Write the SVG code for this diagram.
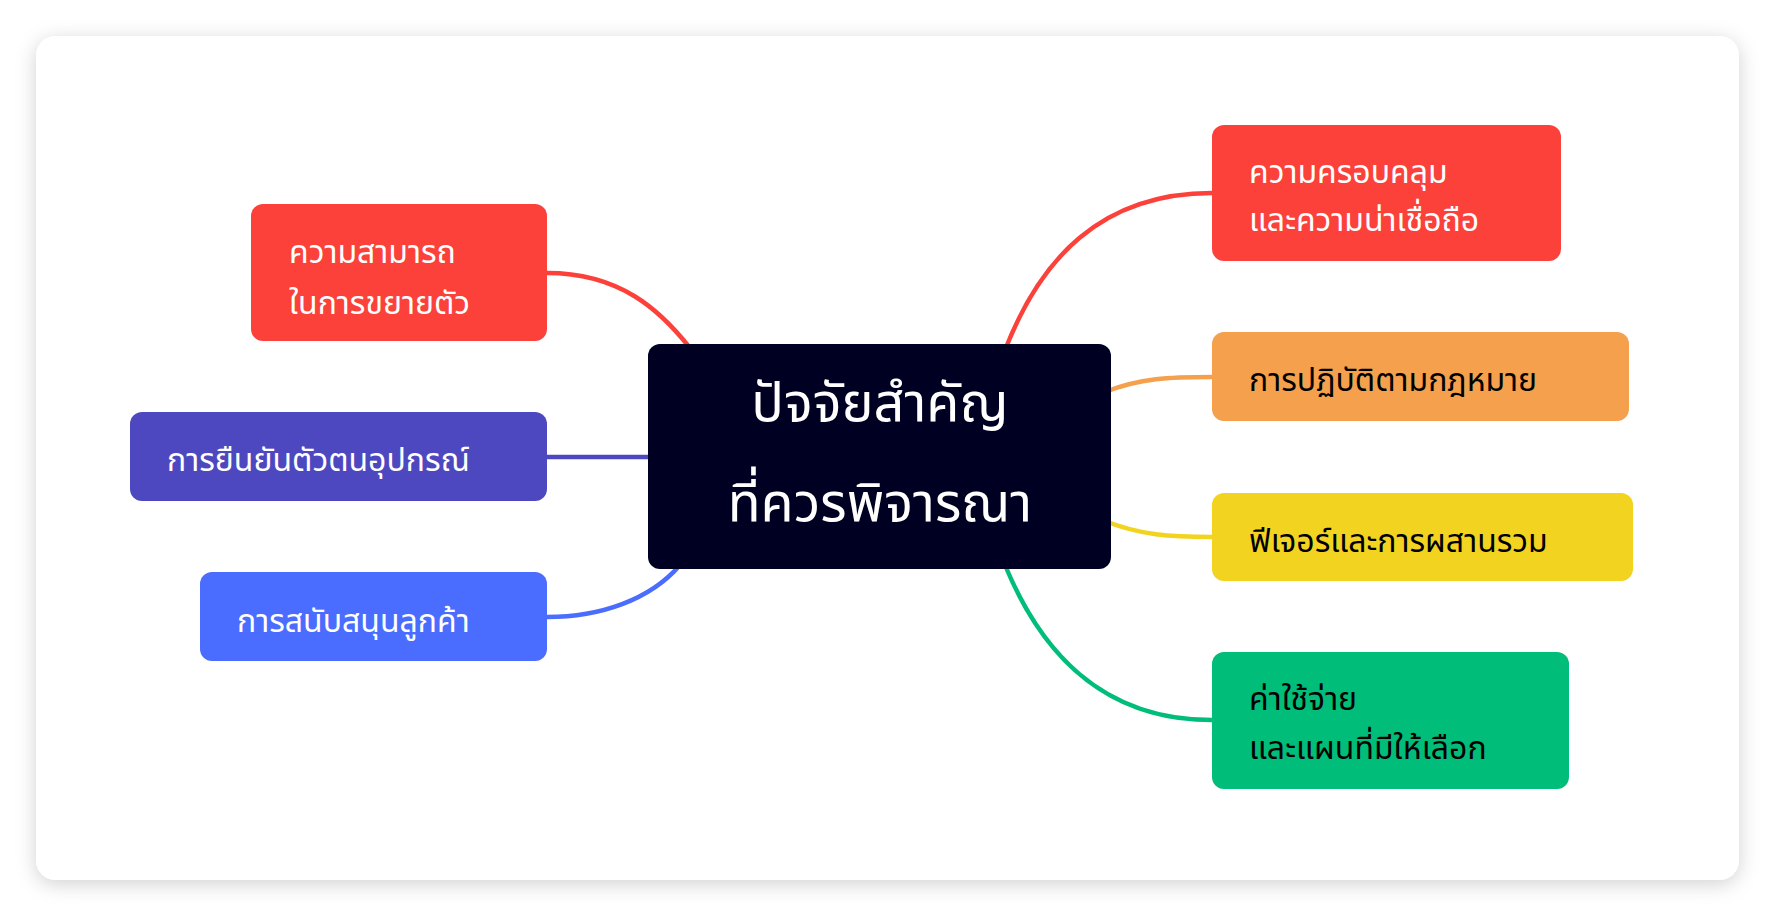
<svg xmlns="http://www.w3.org/2000/svg" width="1776" height="916" viewBox="0 0 1776 916">
<defs>
<filter id="sh" x="-5%" y="-5%" width="110%" height="115%"><feDropShadow dx="0" dy="4" stdDeviation="10" flood-color="#000" flood-opacity="0.18"/></filter>
</defs>
<style>
text{font-family:"Noto Sans","Noto Sans Thai",sans-serif;font-size:32px}
.w{fill:#fff}.k{fill:#000}
.c{fill:none;stroke-width:4.5}
</style>
<rect width="1776" height="916" fill="#fff"/>
<rect x="36" y="36" width="1703" height="844" rx="20" fill="#fff" filter="url(#sh)"/>
<g id="connectors">
<path class="c" stroke="#fc413b" d="M547,273 C620,273 660,310 690,348"/>
<path class="c" stroke="#4e48c0" d="M547,457 L650,457"/>
<path class="c" stroke="#4a6cff" d="M547,617 C600,617 650,600 680,565"/>
<path class="c" stroke="#fc413b" d="M1005,350 C1040,260 1100,193 1212,193"/>
<path class="c" stroke="#f5a04c" d="M1105,392 C1140,378 1170,377 1212,377"/>
<path class="c" stroke="#f2d31f" d="M1105,521 C1140,535 1170,537 1212,537"/>
<path class="c" stroke="#00bd7a" d="M1005,565 C1040,650 1100,720 1212,720"/>
</g>
<g id="center"><rect x="648" y="344" width="463" height="225" rx="12" fill="#000022"/>
<text class="w" x="880" y="421" text-anchor="middle" style="font-size:54px">ปัจจัยสำคัญ</text>
<text class="w" x="880" y="521" text-anchor="middle" style="font-size:54px">ที่ควรพิจารณา</text></g>
<g id="l1"><rect x="251" y="204" width="296" height="137" rx="12" fill="#fc413b"/>
<text class="w" x="289" y="263">ความสามารถ</text><text class="w" x="289" y="314">ในการขยายตัว</text></g>
<g id="l2"><rect x="130" y="412" width="417" height="89" rx="12" fill="#4e48c0"/>
<text class="w" x="167" y="471">การยืนยันตัวตนอุปกรณ์</text></g>
<g id="l3"><rect x="200" y="572" width="347" height="89" rx="12" fill="#4a6cff"/>
<text class="w" x="237" y="632">การสนับสนุนลูกค้า</text></g>
<g id="r1"><rect x="1212" y="125" width="349" height="136" rx="12" fill="#fc413b"/>
<text class="w" x="1249" y="183">ความครอบคลุม</text><text class="w" x="1249" y="231">และความน่าเชื่อถือ</text></g>
<g id="r2"><rect x="1212" y="332" width="417" height="89" rx="12" fill="#f5a04c"/>
<text class="k" x="1249" y="391">การปฏิบัติตามกฎหมาย</text></g>
<g id="r3"><rect x="1212" y="493" width="421" height="88" rx="12" fill="#f2d31f"/>
<text class="k" x="1249" y="552">ฟีเจอร์และการผสานรวม</text></g>
<g id="r4"><rect x="1212" y="652" width="357" height="137" rx="12" fill="#00bd7a"/>
<text class="k" x="1249" y="710">ค่าใช้จ่าย</text><text class="k" x="1249" y="759">และแผนที่มีให้เลือก</text></g>
</svg>
